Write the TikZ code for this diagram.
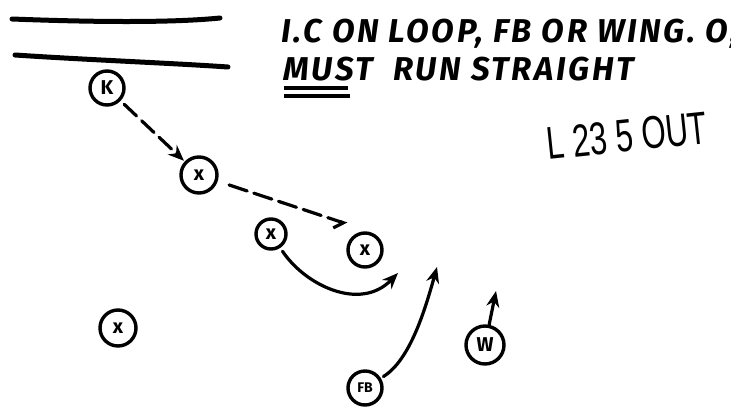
\documentclass[tikz,border=0pt]{standalone}
\usepackage{fontspec}
\setsansfont{Fira Sans}
\newfontfamily\penfont{Liberation Sans}
\usetikzlibrary{arrows.meta}

\tikzset{
  player/.style={circle, draw, line width=3.4pt, inner sep=0pt, minimum size=34pt,
                 font=\sffamily\bfseries\fontsize{20}{20}\selectfont},
  route/.style={line width=3.2pt, line cap=round, -{Stealth[length=16pt,width=13pt]}},
  dashroute/.style={route, dash pattern=on 17pt off 7pt},
  marker/.style={line width=5pt, line cap=round},
  note/.style={anchor=base west, inner sep=0pt,
               font=\sffamily\bfseries\itshape\fontsize{33}{34}\selectfont\addfontfeature{LetterSpace=8}}
}

\begin{document}
\begin{tikzpicture}[x=1pt,y=-1pt]
\useasboundingbox (0,0) rectangle (731,413);
%\draw [help lines,black!20!white] (0,0) grid[step=50] (731,413);

% line of scrimmage
\draw[marker] (12,19) .. controls (90,22) and (170,23) .. (220,18);
\draw[marker] (15,55) .. controls (90,60) and (170,63) .. (228,67);

% coaching notes
\node[note] (rule1) at (281,42) {I.C ON LOOP, FB OR WING. O,};
\node[note] (rule2) at (283,80) {MUST \ RUN STRAIGHT};
\draw[line width=4.5pt] (284,88) -- (348,88);
\draw[line width=4.5pt] (284,96) -- (350,96);

\node[anchor=base west, inner sep=0pt, rotate=6, font=\penfont\fontsize{46}{46}\selectfont] (call)
      at (548,160) {\scalebox{0.68}[1]{L 23 5 OUT}};

% players
\node[player] (k)  at (107,88)  {K};
\node[player, minimum size=36pt] (x1) at (199,175) {x};
\node[player, minimum size=30pt] (x2) at (271,234) {x};
\node[player] (x3) at (365,250) {x};
\node[player, minimum size=36pt] (x4) at (118,328) {x};
\node[player, font=\sffamily\bfseries\fontsize{14}{14}\selectfont] (fb) at (365,388) {FB};
\node[player, minimum size=38pt] (w)  at (485,345) {W};

% route ends
\coordinate (x1end) at (347,224);
\coordinate (x2end) at (398,273);
\coordinate (fbend) at (437,267);
\coordinate (wend)  at (496,291);

% routes
\draw[dashroute, shorten <=5pt, shorten >=1pt] (k) -- (x1);
\draw[line width=3.2pt, line cap=round, dash pattern=on 19pt off 7pt,
      shorten <=12pt, -{Straight Barb[right,length=8pt,width=16pt]}] (x1) -- (x1end);
\draw[route, shorten <=4pt] (x2) .. controls (305,285) and (360,312) .. (x2end);
\draw[route, shorten <=3pt] (fb) .. controls (410,360) and (425,310) .. (fbend);
\draw[route] (w) -- (wend);

\end{tikzpicture}
\end{document}
